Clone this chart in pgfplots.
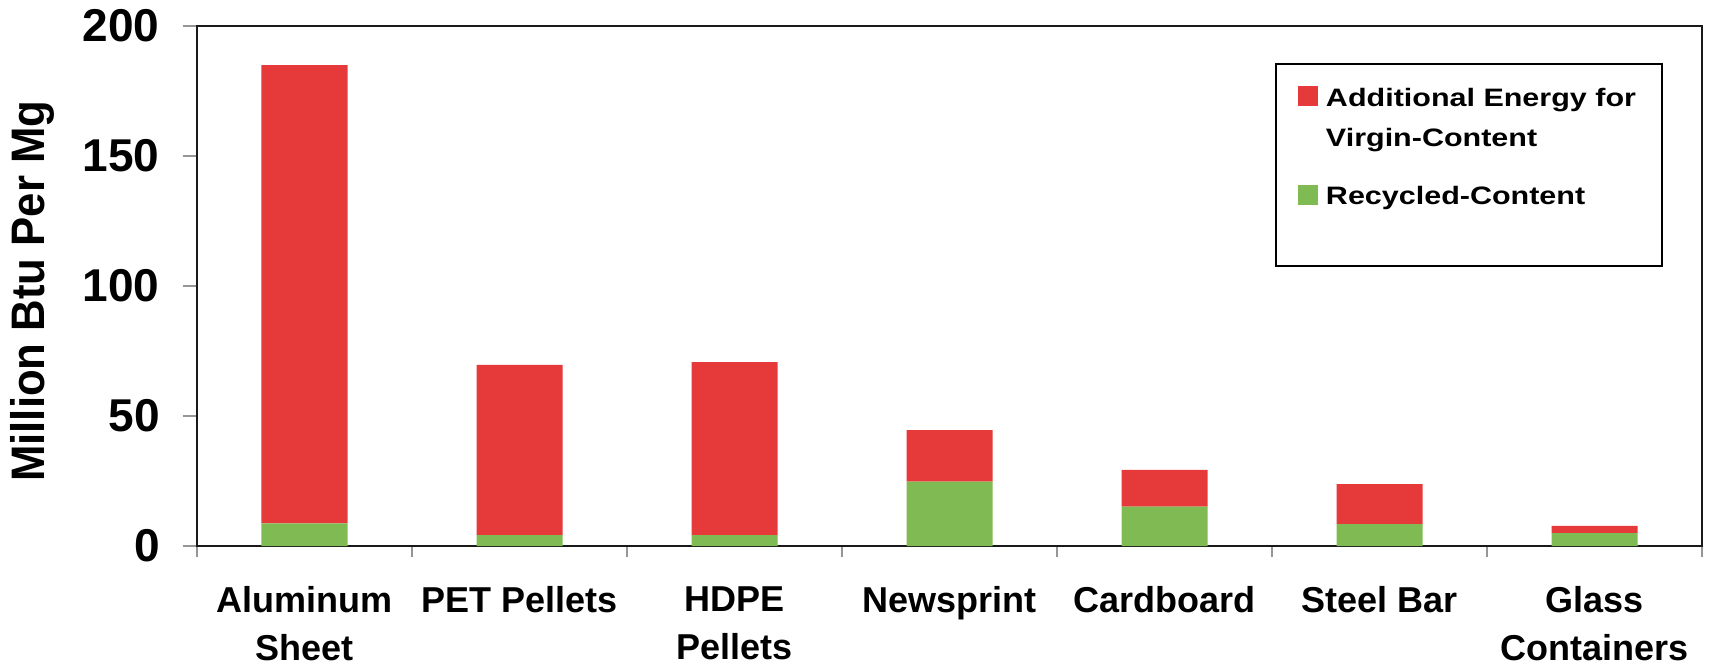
\documentclass[border=0pt]{standalone}
\usepackage{pgfplots}
\pgfplotsset{compat=1.18}
\usepackage{fontspec}
\setmainfont{Liberation Sans}
\newfontfamily\legendfont{Liberation Sans}[FakeStretch=1.21]
\newfontfamily\ylabfont{Liberation Sans}[FakeStretch=0.93]

\definecolor{virgin}{RGB}{230,57,58}
\definecolor{recyc}{RGB}{127,187,82}
\definecolor{tickgray}{RGB}{150,150,150}

% Million Btu per Mg: recycled-content energy and the extra for virgin content
\pgfplotstableread{
idx recycled additional
0   8.7      176.3
1   4.2      65.5
2   4.2      66.5
3   24.8     19.8
4   15.1     14.2
5   8.4      15.4
6   5.0      2.7
}\energy

\begin{document}
\begin{tikzpicture}
\useasboundingbox (-98.5pt,-59.5pt) rectangle (757.5pt,273pt);
\begin{axis}[
    scale only axis,
    width=752.5pt, height=260pt,
    ybar stacked,
    bar width=0.4,
    xmin=-0.5, xmax=6.5,
    ymin=0, ymax=200,
    xtick={-0.5,0.5,...,6.5},
    x tick label as interval,
    xticklabels={{Aluminum\\Sheet},{PET Pellets},{HDPE\\Pellets},Newsprint,Cardboard,{Steel Bar},{Glass\\Containers}},
    ytick={0,50,...,200},
    tick pos=left,
    tick align=outside,
    major tick length=7pt,
    xtick style={/pgfplots/major tick length=5.5pt},
    tick style={tickgray, line width=1pt},
    axis line style={line width=1.3pt, black!90},
    /pgf/number format/assume math mode=true,
    yticklabel style={font=\bfseries\fontsize{23}{23}\selectfont, inner xsep=0pt, xshift=-11.5pt},
    xticklabel style={font=\bfseries\fontsize{18}{24}\selectfont, align=center, inner sep=0pt, yshift=-13pt},
    ylabel={Million Btu Per Mg},
    ylabel style={font=\ylabfont\bfseries\fontsize{23.5}{23.5}\selectfont, at={(axis description cs:-0.1096,0.49)}, anchor=center},
    legend cell align=left,
    reverse legend,
    legend style={at={(rel axis cs:1,1)}, anchor=north east, xshift=-19.5pt, yshift=-18.5pt,
        draw=black, line width=1pt, inner xsep=11pt, inner ysep=11pt, row sep=17.8pt,
        font=\legendfont\bfseries\fontsize{12.6}{20}\selectfont,
        nodes={align=left, inner xsep=2pt, inner ysep=0pt}},
]
\addplot[fill=recyc, draw=none,
    legend image code/.code={\fill[recyc] (5pt,-3.75pt) rectangle (15pt,6.25pt); \path (17pt,-23.5pt);}]
    table[x=idx, y=recycled] {\energy};
\addlegendentry{Recycled-Content}
\addplot[fill=virgin, draw=none,
    legend image code/.code={\fill[virgin] (5pt,6.25pt) rectangle (15pt,16.25pt); \path (17pt,0pt);}]
    table[x=idx, y=additional] {\energy};
\addlegendentry{Additional Energy for\\Virgin-Content}
\end{axis}
\end{tikzpicture}
\end{document}
